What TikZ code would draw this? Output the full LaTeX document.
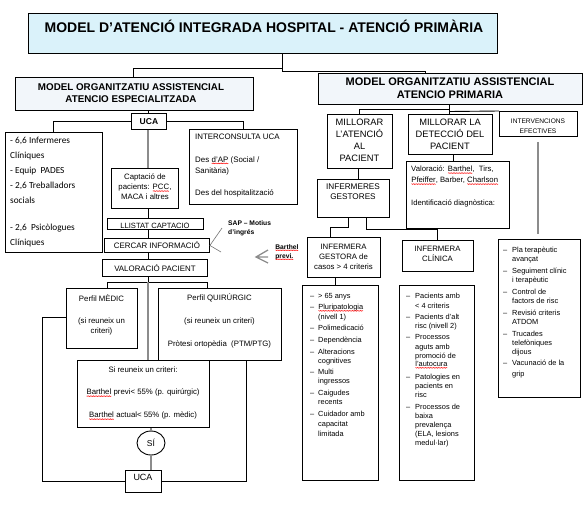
\documentclass[tikz,border=0pt]{standalone}
\usepackage{fontspec}
\setmainfont{Liberation Sans}
\newfontfamily\calfont{Carlito}
\usetikzlibrary{shapes.geometric,decorations.pathmorphing}
\newcommand\rw[1]{\tikz[baseline=(rwn.base)]{\node[inner sep=0pt, outer sep=0pt] (rwn) {#1}; \draw[red, line width=0.35pt, decorate, decoration={snake, amplitude=0.45pt, segment length=1.6pt}] ([yshift=-1.2pt]rwn.base west) -- ([yshift=-1.2pt]rwn.base east);}}
\definecolor{titlefill}{HTML}{DAF2FA}
\definecolor{modfill}{HTML}{F2F6FA}
\begin{document}
\begin{tikzpicture}[x=1pt,y=-1pt,
  bx/.style={draw, line width=0.9pt, inner sep=0pt, anchor=north west},
  ln/.style={line width=0.9pt},
  gl/.style={line width=1.6pt, draw=black!45},
  tx/.style={inner sep=0pt, font=\fontsize{7.8}{10}\selectfont, align=center},
  lt/.style={inner sep=0pt, anchor=mid west, font=\fontsize{7.4}{8}\selectfont}]
\useasboundingbox (0,0) rectangle (583,523);

% ---------- top ----------
\node[bx, fill=titlefill, minimum width=469pt, minimum height=40pt] (title) at (28,13) {};
\node[inner sep=0pt, font=\bfseries\fontsize{14}{16}\selectfont] (titletxt) at (264,26) {MODEL D’ATENCIÓ INTEGRADA HOSPITAL - ATENCIÓ PRIMÀRIA};
\node[bx, fill=modfill, minimum width=238pt, minimum height=33pt] (lmod) at (15,77) {};
\node[inner sep=0pt, align=center, font=\bfseries\fontsize{9.8}{12}\selectfont] (lmodtxt) at (131,93) {MODEL ORGANITZATIU ASSISTENCIAL\\ATENCIO ESPECIALITZADA};
\node[bx, fill=modfill, minimum width=264pt, minimum height=31pt] (rmod) at (318,73) {};
\node[inner sep=0pt, align=center, font=\bfseries\fontsize{11}{12.5}\selectfont] (rmodtxt) at (450,88) {MODEL ORGANITZATIU ASSISTENCIAL\\ATENCIO PRIMARIA};
\coordinate (tj) at (282,68);
\coordinate (lj) at (133,77);
\coordinate (rj) at (425,73);
\draw[ln] (title.south -| tj) -- (tj) -| (lj);
\draw[ln] (tj) -- ++(0,3) -| (rj);

% ---------- left column ----------
\coordinate (cx) at (148,0);
\node[bx, minimum width=35pt, minimum height=16pt, font=\bfseries\fontsize{8.5}{9}\selectfont] (uca1) at (131,113) {UCA};
\draw[ln] (lmod.south -| cx) -- (uca1.north -| cx);
\node[bx, minimum width=97pt, minimum height=120pt] (staff) at (5,132) {};
\node[anchor=north west, inner sep=0pt, align=left, font=\calfont\fontsize{9.3}{15}\selectfont] (stafft) at (10,137) {- 6,6 Infermeres\\Clíniques\\- Equip\ \ PADES\\- 2,6 Treballadors\\socials\\[12pt]- 2,6\ \ Psicòlogues\\Clíniques};
\coordinate (sj) at (53,132);
\draw[ln] (uca1.west) -| (sj);
\node[bx, minimum width=108pt, minimum height=75pt] (inter) at (189,129) {};
\coordinate (ij) at (243,129);
\draw[ln] (uca1.east) -| (ij);
\node[anchor=north west, inner sep=0pt, align=left, font=\fontsize{7.9}{11}\selectfont] (intert) at (195,134) {INTERCONSULTA UCA\\[11.5pt]Des \rw{d’AP} (Social /\\Sanitària)\\[11pt]Des del hospitalització};
\node[bx, minimum width=67pt, minimum height=40pt] (capt) at (111,168) {};
\node[tx] (captt) at (145,187) {Captació de\\pacients: \rw{PCC},\\MACA i altres};
\draw[gl] (uca1.south -| cx) -- (capt.north -| cx);
\node[bx, minimum width=96pt, minimum height=11pt] (llist) at (107,218) {};
\begin{scope}
\clip (107,222.3) rectangle (203,229);
\node[inner sep=0pt, anchor=base, font=\fontsize{7.6}{8}\selectfont] (llistt) at (155,228.2) {LLISTAT CAPTACIÓ};
\end{scope}
\draw[ln] (capt.south -| cx) -- (llist.north -| cx);
\node[bx, minimum width=105pt, minimum height=14pt, font=\fontsize{7.9}{8}\selectfont] (cercar) at (104,238) {CERCAR INFORMACIÓ};
\draw[ln] (llist.south -| cx) -- (cercar.north -| cx);
\node[bx, minimum width=105pt, minimum height=17pt, font=\fontsize{7.9}{8}\selectfont] (valor) at (102,259) {VALORACIÓ PACIENT};
\draw[ln] (cercar.south -| cx) -- (valor.north -| cx);
\coordinate (sapa) at (222,228);
\coordinate (sapb) at (221,252);
\draw[line width=0.6pt, draw=black!55] (sapa) -- (cercar.east) -- (sapb);
\node[anchor=north west, inner sep=0pt, align=left, font=\bfseries\fontsize{6.7}{9}\selectfont] (sap) at (228,220) {SAP – Motius\\d’ingrés};
\node[anchor=north west, inner sep=0pt, align=left, font=\bfseries\fontsize{6.7}{9}\selectfont] (bprev) at (275,244) {\rw{Barthel}\\\rw{previ.}};
\coordinate (ar0) at (256,257);
\coordinate (ar1) at (268,250);
\coordinate (ar2) at (268,263);
\coordinate (ar3) at (268,257);
\draw[gl, line width=1.3pt] (ar1) -- (ar0) -- (ar2) (ar0) -- (ar3);

% ---------- lower left ----------
\coordinate (bj) at (148,282);
\coordinate (mj) at (107,288);
\coordinate (qj) at (207,288);
\draw[ln] (valor.south -| bj) -- (bj);
\draw[ln] (mj) |- (qj |- bj) -- (qj);
\node[bx, minimum width=71pt, minimum height=60pt] (medic) at (66,288) {};
\node[tx] (medt1) at (101.5,298) {Perfil MÈDIC};
\node[tx] (medt2) at (101.5,326) {(si reuneix un\\criteri)};
\node[bx, minimum width=123pt, minimum height=72pt] (quir) at (158,288) {};
\node[tx] (quirt1) at (219.5,298) {Perfil QUIRÚRGIC};
\node[tx] (quirt2) at (219.5,321) {(si reuneix un criteri)};
\node[tx] (quirt3) at (219.5,344) {Pròtesi ortopèdia\ \ (PTM/PTG)};
\node[bx, minimum width=132pt, minimum height=67pt] (si) at (77,360) {};
\node[tx] (sit1) at (143,370) {Si reuneix un criteri:};
\node[tx] (sit2) at (143,393) {\rw{Barthel} previ< 55\% (p. quirúrgic)};
\node[tx] (sit3) at (143,416) {\rw{Barthel} actual< 55\% (p. mèdic)};
\draw[gl] (bj) -- (si.north -| bj);
\node[draw, line width=0.9pt, ellipse, minimum width=28pt, minimum height=24pt, inner sep=0pt, font=\fontsize{8.5}{9}\selectfont] (sin) at (151,443) {SÍ};
\draw[gl] (si.south -| sin) -- (sin);
\node[bx, minimum width=36pt, minimum height=22pt] (uca2) at (125,470) {};
\node[inner sep=0pt, font=\fontsize{9}{10}\selectfont] (uca2t) at (143,477.5) {UCA};
\draw[gl] (sin) -- (uca2.north -| sin);
\coordinate (mk) at (42,317);
\coordinate (qk) at (246,360);
\draw[ln] (uca2.west) -| (mk) -- (mk -| medic.west);
\draw[ln] (uca2.east) -| (qk);

% ---------- right side ----------
\node[bx, minimum width=65pt, minimum height=54pt] (mill1) at (327,114) {};
\node[tx, font=\fontsize{9.3}{12}\selectfont] (mill1t) at (359.5,140.5) {MILLORAR\\L’ATENCIÓ\\AL\\PACIENT};
\node[bx, minimum width=84pt, minimum height=40pt] (mill2) at (408,114) {};
\node[tx, font=\fontsize{9.3}{12}\selectfont] (mill2t) at (450,134.5) {MILLORAR LA\\DETECCIÓ DEL\\PACIENT};
\node[bx, minimum width=78pt, minimum height=25pt] (interv) at (499,111) {};
\node[tx, font=\fontsize{6.6}{10}\selectfont] (intervt) at (538,126) {INTERVENCIONS\\EFECTIVES};
\coordinate (rj2) at (449,109);
\coordinate (m1j) at (359,114);
\coordinate (rj3) at (449,111.5);
\draw[ln] (rmod.south -| rj2) -- (mill2.north -| rj2);
\draw[ln] (rj2) -| (m1j);
\draw[ln] (rj3) -- (interv.north west);
\node[bx, minimum width=82pt, minimum height=158pt] (intlist) at (498,239) {};
\draw[gl, line width=2pt] ([yshift=-5pt]interv.south) -- ([yshift=5pt]intlist.north -| interv.south);

\node[bx, minimum width=72pt, minimum height=38pt] (gest) at (317,179) {};
\node[tx, font=\fontsize{8.2}{10}\selectfont] (gestt) at (353,192) {INFERMERES\\GESTORES};
\coordinate (g1) at (358,179);
\draw[ln] (mill1.south -| g1) -- (g1);
\node[bx, minimum width=103pt, minimum height=67pt] (val) at (406,161) {};
\coordinate (v1) at (453,161);
\draw[ln] (mill2.south -| v1) -- (v1);
\node[anchor=north west, inner sep=0pt, align=left, font=\fontsize{7.7}{11}\selectfont] (valt) at (411,166) {Valoració: \rw{Barthel},\ \ Tirs,\\\rw{Pfeiffer}, Barber, \rw{Charlson}\\[12pt]Identificació diagnòstica:};

\node[bx, minimum width=73pt, minimum height=40pt] (gestora) at (307,237) {};
\node[tx] (gestorat) at (343.5,257) {INFERMERA\\GESTORA de\\casos > 4 criteris};
\node[bx, minimum width=71pt, minimum height=31pt] (clin) at (402,240) {};
\node[tx] (clint) at (437.5,254) {INFERMERA\\CLÍNICA};
\coordinate (a1) at (348,227);
\coordinate (a2) at (330,237);
\coordinate (b1) at (366,229);
\coordinate (b2) at (437,229);
\draw[ln] (gest.south -| a1) -- (a1) -| (a2);
\draw[ln] (gest.south -| b1) -- (b1) -- (b2);
\draw[ln] (val.south -| b2) -- (clin.north -| b2);

\node[bx, minimum width=76pt, minimum height=195pt] (list1) at (302,285) {};
\coordinate (c1) at (335,285);
\draw[ln] (gestora.south -| c1) -- (c1);
\node[bx, minimum width=75pt, minimum height=195pt] (list2) at (399,285) {};

\foreach \yy [count=\i] in {296,307,328,340,352,372,393,414}
  \node[lt] (da\i) at (310,\yy) {–};
\foreach \yy/\txt [count=\i] in {296/{> 65 anys},307/{\rw{Pluripatologia}},317/{(nivell 1)},328/{Polimedicació},340/{Dependència},352/{Alteracions},361/{cognitives},372/{Multi},381/{ingressos},393/{Caigudes},402/{recents},414/{Cuidador amb},424/{capacitat},434/{limitada}}
  \node[lt] (la\i) at (318,\yy) {\txt};

\foreach \yy [count=\i] in {296,317,337,377,407}
  \node[lt] (db\i) at (406,\yy) {–};
\foreach \yy/\txt [count=\i] in {296/{Pacients amb},306/{< 4 criteris},317/{Pacients d’alt},326/{risc (nivell 2)},337/{Processos},347/{aguts amb},356/{promoció de},364/{\rw{l’autocura}},377/{Patologies en},386/{pacients en},395/{risc},407/{Processos de},416/{baixa},425/{prevalença},434/{(ELA, lesions},443/{medul·lar)}}
  \node[lt] (lb\i) at (415,\yy) {\txt};

\foreach \yy [count=\i] in {250,271,292,313,334,363}
  \node[lt] (dc\i) at (503,\yy) {–};
\foreach \yy/\txt [count=\i] in {250/{Pla terapèutic},259/{avançat},271/{Seguiment clínic},280/{i terapèutic},292/{Control de},301/{factors de risc},313/{Revisió criteris},322/{ATDOM},334/{Trucades},343/{telefòniques},352/{dijous},363/{Vacunació de la},374/{grip}}
  \node[lt] (lc\i) at (512,\yy) {\txt};
\end{tikzpicture}
\end{document}
